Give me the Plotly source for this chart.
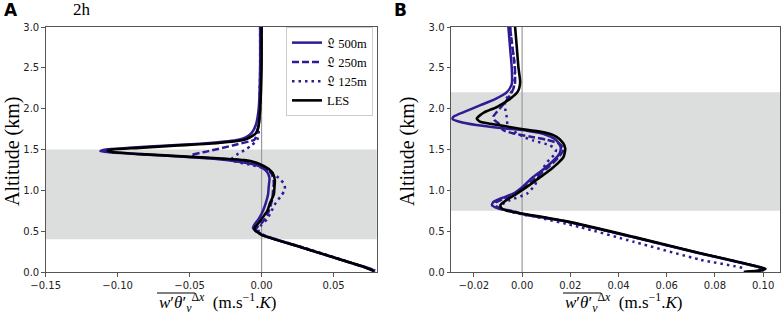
import plotly.graph_objects as go

# ---------------- data ----------------
# Panel A (2h)
alt_les_a = [3.0, 2.5, 2.0, 1.8, 1.70, 1.65, 1.62, 1.58, 1.55, 1.52, 1.50, 1.485, 1.47, 1.44, 1.41, 1.39, 1.37, 1.34,
             1.31, 1.26, 1.20, 1.13, 1.05, 0.95, 0.85, 0.75, 0.65, 0.58, 0.54, 0.51, 0.48, 0.455, 0.30, 0.15, 0.05, 0.01]
x_les_a = [0.000, 0.000, -0.001, -0.002, -0.004, -0.008, -0.012, -0.030, -0.058, -0.085, -0.104, -0.107, -0.104,
           -0.080, -0.049, -0.028, -0.012, -0.004, 0.000, 0.005, 0.008, 0.0092, 0.009, 0.0085, 0.006, 0.004, 0.000,
           -0.003, -0.0048, -0.0045, -0.002, 0.000, 0.028, 0.0555, 0.073, 0.078]

alt_500_a = [3.0, 2.5, 2.0, 1.8, 1.70, 1.65, 1.62, 1.58, 1.55, 1.52, 1.50, 1.48, 1.465, 1.44, 1.41, 1.38, 1.35, 1.32,
             1.28, 1.22, 1.15, 1.05, 0.95, 0.85, 0.75, 0.65, 0.58, 0.54, 0.50, 0.47, 0.45, 0.30, 0.15, 0.03, 0.0]
x_500_a = [-0.001, -0.001, -0.002, -0.004, -0.007, -0.011, -0.016, -0.036, -0.065, -0.092, -0.108, -0.112, -0.106,
           -0.083, -0.054, -0.030, -0.016, -0.006, 0.000, 0.004, 0.0055, 0.005, 0.0045, 0.003, 0.001, -0.002, -0.005,
           -0.006, -0.004, -0.001, 0.001, 0.028, 0.055, 0.077, 0.0785]

alt_250_a = [3.0, 2.5, 2.0, 1.8, 1.70, 1.65, 1.62, 1.55, 1.48, 1.43, 1.41, 1.39, 1.37, 1.34, 1.31, 1.27, 1.20, 1.10,
             1.00, 0.90, 0.80, 0.70, 0.62, 0.55, 0.51, 0.48, 0.455, 0.30, 0.15, 0.02]
x_250_a = [0.000, -0.0005, -0.001, -0.002, -0.003, -0.004, -0.005, -0.020, -0.037, -0.049, -0.047, -0.030, -0.015,
           -0.006, -0.001, 0.003, 0.007, 0.0085, 0.008, 0.0075, 0.006, 0.004, 0.001, -0.003, -0.004, -0.002, 0.000,
           0.028, 0.055, 0.078]

alt_125_a = [3.0, 2.5, 2.0, 1.8, 1.70, 1.62, 1.55, 1.50, 1.45, 1.40, 1.37, 1.34, 1.31, 1.28, 1.22, 1.15, 1.07, 1.00,
             0.92, 0.85, 0.75, 0.65, 0.58, 0.53, 0.50, 0.47, 0.44, 0.30, 0.15, 0.02]
x_125_a = [-0.001, -0.001, -0.0015, -0.002, -0.002, -0.003, -0.007, -0.011, -0.016, -0.020, -0.021, -0.015, -0.007,
           0.000, 0.007, 0.012, 0.016, 0.016, 0.013, 0.010, 0.007, 0.004, 0.000, -0.002, -0.002, 0.000, 0.003, 0.029,
           0.056, 0.079]

# Panel B
alt_les_b = [3.0, 2.75, 2.5, 2.33, 2.25, 2.2, 2.12, 2.02, 1.95, 1.88, 1.84, 1.81, 1.77, 1.74, 1.71, 1.66, 1.58, 1.51,
             1.41, 1.33, 1.25, 1.15, 1.07, 0.96, 0.88, 0.82, 0.78, 0.75, 0.72, 0.62, 0.43, 0.23, 0.08, 0.04, 0.02, 0.0]
x_les_b = [-0.0029, -0.0022, -0.0015, -0.0008, -0.0012, -0.002, -0.005, -0.0105, -0.016, -0.0188, -0.0175, -0.012,
           -0.004, 0.002, 0.009, 0.014, 0.017, 0.0179, 0.0172, 0.0148, 0.0116, 0.007, 0.0033, -0.0022, -0.0065,
           -0.009, -0.0085, -0.006, -0.0008, 0.0186, 0.0463, 0.074, 0.096, 0.101, 0.099, 0.092]

alt_500_b = [3.0, 2.75, 2.5, 2.3, 2.2, 2.12, 2.04, 1.96, 1.90, 1.87, 1.84, 1.80, 1.76, 1.73, 1.69, 1.62, 1.53, 1.45,
             1.35, 1.25, 1.15, 1.05, 0.97, 0.91, 0.86, 0.82, 0.78, 0.74, 0.71, 0.62, 0.43, 0.23, 0.08, 0.04, 0.02, 0.0]
x_500_b = [-0.0057, -0.005, -0.0043, -0.0043, -0.0064, -0.011, -0.0175, -0.024, -0.0285, -0.0288, -0.026, -0.019,
           -0.008, 0.002, 0.009, 0.014, 0.016, 0.0155, 0.0125, 0.0085, 0.004, 0.0005, -0.003, -0.008, -0.0118,
           -0.0125, -0.010, -0.004, 0.000, 0.018, 0.0455, 0.0735, 0.0955, 0.1005, 0.099, 0.092]

alt_250_b = [3.0, 2.75, 2.5, 2.3, 2.2, 2.12, 2.05, 1.96, 1.90, 1.86, 1.80, 1.74, 1.70, 1.66, 1.62, 1.57, 1.50, 1.40,
             1.30, 1.20, 1.10, 1.02, 0.95, 0.89, 0.85, 0.81, 0.77, 0.74, 0.71, 0.62, 0.43, 0.23, 0.06, 0.02, 0.0]
x_250_b = [-0.005, -0.004, -0.003, -0.003, -0.0043, -0.006, -0.0078, -0.0105, -0.012, -0.0115, -0.009, -0.008,
           -0.004, 0.003, 0.010, 0.0155, 0.0172, 0.015, 0.0115, 0.0075, 0.0035, 0.000, -0.004, -0.008, -0.0108,
           -0.011, -0.008, -0.003, 0.000, 0.018, 0.0457, 0.0737, 0.098, 0.100, 0.094]

alt_125_b = [3.0, 2.75, 2.5, 2.25, 2.1, 2.0, 1.9, 1.8, 1.74, 1.70, 1.65, 1.61, 1.55, 1.50, 1.45, 1.35, 1.21, 1.07,
             0.96, 0.88, 0.83, 0.78, 0.74, 0.70, 0.68, 0.55, 0.37, 0.15, 0.05, 0.03]
x_125_b = [-0.005, -0.004, -0.003, -0.0036, -0.007, -0.007, -0.0064, -0.006, -0.004, -0.0022, 0.001, 0.0047, 0.0115,
           0.014, 0.0137, 0.0105, 0.0075, 0.0054, 0.002, -0.005, -0.008, -0.009, -0.005, 0.001, 0.0047, 0.024,
           0.0463, 0.074, 0.0914, 0.0925]

# shaded altitude bands (km)
band_a = [0.4, 1.5]
band_b = [0.75, 2.2]

xrange_a = [-0.15, 0.08]
xrange_b = [-0.0295, 0.107]
xticks_a = [-0.15, -0.10, -0.05, 0.00, 0.05]
xticks_b = [-0.02, 0.00, 0.02, 0.04, 0.06, 0.08, 0.10]
yticks = [0.0, 0.5, 1.0, 1.5, 2.0, 2.5, 3.0]

legend_names = ["\U0001D50F 500m", "\U0001D50F 250m", "\U0001D50F 125m", "LES"]

# ---------------- styling ----------------
PURPLE = "#2f1b93"
W, H = 782, 320
ML, MR, MT, MB = 0, 0, 27, 48
PH = H - MT - MB

def px_x(p):
    return p / W

def px_y(p):
    return (H - MB - p) / PH

SERIF = "Liberation Serif, DejaVu Serif, serif"
SANS = "DejaVu Sans, sans-serif"

fig = go.Figure()

styles = [
    dict(color=PURPLE, width=2.5, dash="solid"),
    dict(color=PURPLE, width=2.5, dash="7px,3px"),
    dict(color=PURPLE, width=2.5, dash="2.5px,4px"),
    dict(color="black", width=2.6, dash="solid"),
]

series_a = [(x_500_a, alt_500_a), (x_250_a, alt_250_a), (x_125_a, alt_125_a), (x_les_a, alt_les_a)]
series_b = [(x_500_b, alt_500_b), (x_250_b, alt_250_b), (x_125_b, alt_125_b), (x_les_b, alt_les_b)]

for i, (xs, ys) in enumerate(series_a):
    fig.add_trace(go.Scatter(x=xs, y=ys, mode="lines", name=legend_names[i],
                             line=dict(shape="spline", smoothing=0.6, **styles[i]),
                             xaxis="x", yaxis="y", showlegend=True))
for i, (xs, ys) in enumerate(series_b):
    fig.add_trace(go.Scatter(x=xs, y=ys, mode="lines", name=legend_names[i],
                             line=dict(shape="spline", smoothing=0.6, **styles[i]),
                             xaxis="x2", yaxis="y2", showlegend=False))

shapes = []
for xr, yr, band in [("x", "y", band_a), ("x2", "y2", band_b)]:
    shapes.append(dict(type="rect", xref=xr + " domain", yref=yr, x0=0, x1=1, y0=band[0], y1=band[1],
                       fillcolor="#dcdddd", line=dict(width=0), layer="below"))
    shapes.append(dict(type="line", xref=xr, yref=yr + " domain", x0=0, x1=0, y0=0, y1=1,
                       line=dict(color="#9a9a9a", width=1.2), layer="below"))

# overlines for the x-axis labels
for x0 in (157, 563):
    shapes.append(dict(type="line", xref="paper", yref="paper", x0=px_x(x0), x1=px_x(x0 + 38),
                       y0=px_y(293), y1=px_y(293), line=dict(color="black", width=1)))

ax_common = dict(showline=True, linecolor="#555", linewidth=1, mirror=True, ticks="outside", ticklen=3.5,
                 tickcolor="#555", tickfont=dict(family=SANS, size=10, color="#222"), showgrid=False,
                 zeroline=False, automargin=False)

xlabel = ("<i>w</i>′<i>θ</i>′<sub><i>v</i></sub><sup>Δ<i>x</i></sup>  (m.s<sup>−1</sup>.<i>K</i>)")

annotations = [
    dict(text="<b>A</b>", x=px_x(2), y=px_y(10), xref="paper", yref="paper", xanchor="left", yanchor="middle",
         showarrow=False, font=dict(family=SANS, size=17, color="black")),
    dict(text="2h", x=px_x(71), y=px_y(9), xref="paper", yref="paper", xanchor="left", yanchor="middle",
         showarrow=False, font=dict(family=SERIF, size=17, color="black")),
    dict(text="<b>B</b>", x=px_x(392), y=px_y(10), xref="paper", yref="paper", xanchor="left", yanchor="middle",
         showarrow=False, font=dict(family=SANS, size=17, color="black")),
    dict(text="Altitude (km)", x=px_x(12), y=px_y(152), xref="paper", yref="paper", xanchor="center",
         yanchor="middle", textangle=-90, showarrow=False, font=dict(family=SERIF, size=20, color="black")),
    dict(text="Altitude (km)", x=px_x(407), y=px_y(152), xref="paper", yref="paper", xanchor="center",
         yanchor="middle", textangle=-90, showarrow=False, font=dict(family=SERIF, size=20, color="black")),
    dict(text=xlabel, x=px_x(157), y=px_y(302), xref="paper", yref="paper", xanchor="left", yanchor="middle",
         showarrow=False, font=dict(family=SERIF, size=17, color="black")),
    dict(text=xlabel, x=px_x(563), y=px_y(302), xref="paper", yref="paper", xanchor="left", yanchor="middle",
         showarrow=False, font=dict(family=SERIF, size=17, color="black")),
]

fig.update_layout(
    width=W, height=H,
    margin=dict(l=ML, r=MR, t=MT, b=MB, autoexpand=False),
    paper_bgcolor="white", plot_bgcolor="white",
    xaxis=dict(domain=[px_x(45.7), px_x(376.7)], range=xrange_a, tickvals=xticks_a, tickformat=".2f",
               anchor="y", **ax_common),
    yaxis=dict(domain=[0, 1], range=[0, 3], tickvals=yticks, tickformat=".1f", anchor="x", **ax_common),
    xaxis2=dict(domain=[px_x(451), px_x(780)], range=xrange_b, tickvals=xticks_b, tickformat=".2f",
                anchor="y2", **ax_common),
    yaxis2=dict(domain=[0, 1], range=[0, 3], tickvals=yticks, tickformat=".1f", anchor="x2", **ax_common),
    shapes=shapes,
    annotations=annotations,
    legend=dict(x=px_x(373), y=1.0, xanchor="right", yanchor="top", bgcolor="rgba(255,255,255,0.9)",
                bordercolor="#cccccc", borderwidth=1, font=dict(family=SERIF, size=12.5, color="black"),
                itemwidth=30, tracegroupgap=0),
    showlegend=True,
)

fig.write_html("out.html", config={"displayModeBar": False},
               post_script="document.body.style.margin='0';document.body.style.padding='0';")
